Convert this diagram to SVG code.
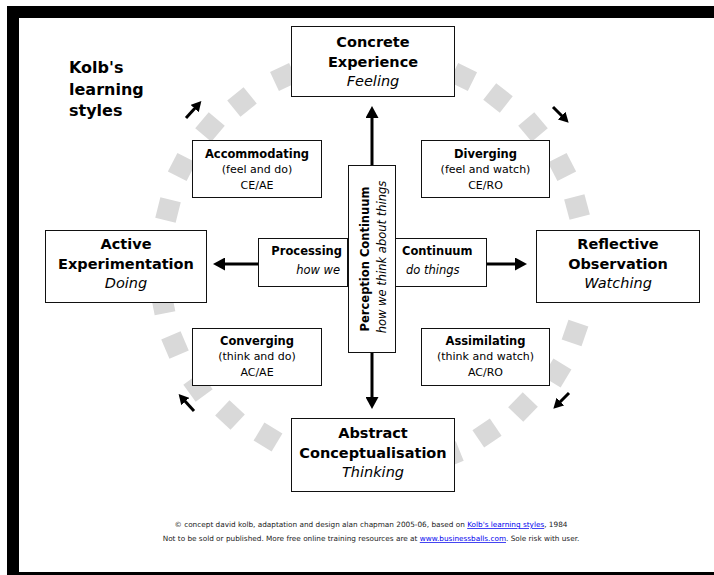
<svg xmlns="http://www.w3.org/2000/svg" xmlns:xlink="http://www.w3.org/1999/xlink" width="714" height="575" viewBox="0 0 714 575">
<style>
.box{fill:#fff;stroke:#111;stroke-width:1}
text{font-family:"DejaVu Sans","Liberation Sans",sans-serif;fill:#000}
.c{text-anchor:middle}
.big{font-size:14.5px;font-weight:bold}
.bigi{font-size:14.5px;font-style:italic}
.sb{font-size:11.5px;font-weight:bold}
.sr{font-size:11px}
.si{font-size:11.5px;font-style:italic}
.ttl{font-size:16px;font-weight:bold}
.ft{font-size:7.3px;fill:#222}
.lnk{fill:#0000ee;text-decoration:underline}
.con{stroke:#000;stroke-width:3;fill:none;marker-end:url(#ah)}
.dir{stroke:#000;stroke-width:3;fill:none;marker-end:url(#sah)}
.sq{fill:#d9d9d9}
</style>
<defs>
<marker id="ah" markerUnits="userSpaceOnUse" markerWidth="13" markerHeight="13" refX="2" refY="6.5" orient="auto" viewBox="0 0 13 13">
<path d="M0,0 L12,6.5 L0,13 Z" fill="#000"/>
</marker>
<marker id="sah" markerUnits="userSpaceOnUse" markerWidth="11" markerHeight="11" refX="2" refY="5.5" orient="auto" viewBox="0 0 11 11">
<path d="M0,0 L10,5.5 L0,11 Z" fill="#000"/>
</marker>
<rect id="sq" class="sq" x="-10.5" y="-10.5" width="21" height="21"/>
</defs>

<rect x="13" y="12" width="800" height="566" fill="none" stroke="#000" stroke-width="12"/>

<g id="cycle-squares">
<use href="#sq" transform="translate(463,77) rotate(26)"/>
<use href="#sq" transform="translate(498,98) rotate(38)"/>
<use href="#sq" transform="translate(533,127) rotate(50)"/>
<use href="#sq" transform="translate(562,167) rotate(63)"/>
<use href="#sq" transform="translate(577,207) rotate(75)"/>
<use href="#sq" transform="translate(575,333) rotate(109)"/>
<use href="#sq" transform="translate(557,373) rotate(121)"/>
<use href="#sq" transform="translate(523,407) rotate(134)"/>
<use href="#sq" transform="translate(487,433) rotate(146)"/>
<use href="#sq" transform="translate(450,455) rotate(158)"/>
<use href="#sq" transform="translate(268,437) rotate(211)"/>
<use href="#sq" transform="translate(230,415) rotate(223)"/>
<use href="#sq" transform="translate(198,387) rotate(234)"/>
<use href="#sq" transform="translate(175,345) rotate(247)"/>
<use href="#sq" transform="translate(163,303) rotate(259)"/>
<use href="#sq" transform="translate(168,210) rotate(-76)"/>
<use href="#sq" transform="translate(182,167) rotate(-63)"/>
<use href="#sq" transform="translate(210,127) rotate(-50)"/>
<use href="#sq" transform="translate(242,102) rotate(-39)"/>
<use href="#sq" transform="translate(284,77) rotate(-25)"/>
</g>

<g id="connectors">
<line class="con" x1="372" y1="165" x2="372" y2="116"/>
<line class="con" x1="372" y1="353" x2="372" y2="399"/>
<line class="con" x1="258" y1="264" x2="223" y2="264"/>
<line class="con" x1="487" y1="264" x2="517" y2="264"/>
<line class="dir" x1="186" y1="118" x2="196" y2="107"/>
<line class="dir" x1="553" y1="107" x2="563" y2="117"/>
<line class="dir" x1="569" y1="393" x2="559" y2="403"/>
<line class="dir" x1="194" y1="411" x2="184" y2="400"/>
</g>

<g id="title">
<text class="ttl" x="69" y="73">Kolb's</text>
<text class="ttl" x="69" y="95">learning</text>
<text class="ttl" x="69" y="116">styles</text>
</g>

<g id="concrete-experience">
<rect class="box" x="291.5" y="26.5" width="163" height="70"/>
<text class="big c" x="373" y="47">Concrete</text>
<text class="big c" x="373" y="67">Experience</text>
<text class="bigi c" x="373" y="86">Feeling</text>
</g>

<g id="active-experimentation">
<rect class="box" x="45.5" y="230.5" width="161" height="72"/>
<text class="big c" x="126" y="249">Active</text>
<text class="big c" x="126" y="269">Experimentation</text>
<text class="bigi c" x="126" y="288">Doing</text>
</g>

<g id="reflective-observation">
<rect class="box" x="536.5" y="230.5" width="163" height="72"/>
<text class="big c" x="618" y="249">Reflective</text>
<text class="big c" x="618" y="269">Observation</text>
<text class="bigi c" x="618" y="288">Watching</text>
</g>

<g id="abstract-conceptualisation">
<rect class="box" x="291.5" y="418.5" width="163" height="73"/>
<text class="big c" x="373" y="438">Abstract</text>
<text class="big c" x="373" y="458">Conceptualisation</text>
<text class="bigi c" x="373" y="477">Thinking</text>
</g>

<g id="accommodating">
<rect class="box" x="192.5" y="140.5" width="129" height="57"/>
<text class="sb c" x="257" y="158">Accommodating</text>
<text class="sr c" x="257" y="173">(feel and do)</text>
<text class="sr c" x="257" y="189">CE/AE</text>
</g>

<g id="diverging">
<rect class="box" x="421.5" y="140.5" width="128" height="57"/>
<text class="sb c" x="485.5" y="158">Diverging</text>
<text class="sr c" x="485.5" y="173">(feel and watch)</text>
<text class="sr c" x="485.5" y="189">CE/RO</text>
</g>

<g id="converging">
<rect class="box" x="192.5" y="328.5" width="129" height="57"/>
<text class="sb c" x="257" y="345">Converging</text>
<text class="sr c" x="257" y="360">(think and do)</text>
<text class="sr c" x="257" y="376">AC/AE</text>
</g>

<g id="assimilating">
<rect class="box" x="421.5" y="328.5" width="128" height="57"/>
<text class="sb c" x="485.5" y="345">Assimilating</text>
<text class="sr c" x="485.5" y="360">(think and watch)</text>
<text class="sr c" x="485.5" y="376">AC/RO</text>
</g>

<g id="processing-continuum">
<rect class="box" x="258.5" y="238.5" width="89" height="48"/>
<text class="sb" x="342" y="255" text-anchor="end">Processing</text>
<text class="si" x="340" y="274" text-anchor="end">how we</text>
<rect class="box" x="395.5" y="238.5" width="91" height="48"/>
<text class="sb" x="402" y="255">Continuum</text>
<text class="si" x="406" y="274">do things</text>
</g>

<g id="perception-continuum">
<rect class="box" x="348.5" y="165.5" width="47" height="187"/>
<text class="sb c" transform="translate(368.5,259) rotate(-90)">Perception Continuum</text>
<text class="si c" transform="translate(386,257) rotate(-90)">how we think about things</text>
</g>

<g id="footer">
<text class="ft c" x="371" y="527">© concept david kolb, adaptation and design alan chapman 2005-06, based on <tspan class="lnk">Kolb's learning styles</tspan>, 1984</text>
<text class="ft c" x="371" y="541">Not to be sold or published. More free online training resources are at <tspan class="lnk">www.businessballs.com</tspan>. Sole risk with user.</text>
</g>
</svg>
